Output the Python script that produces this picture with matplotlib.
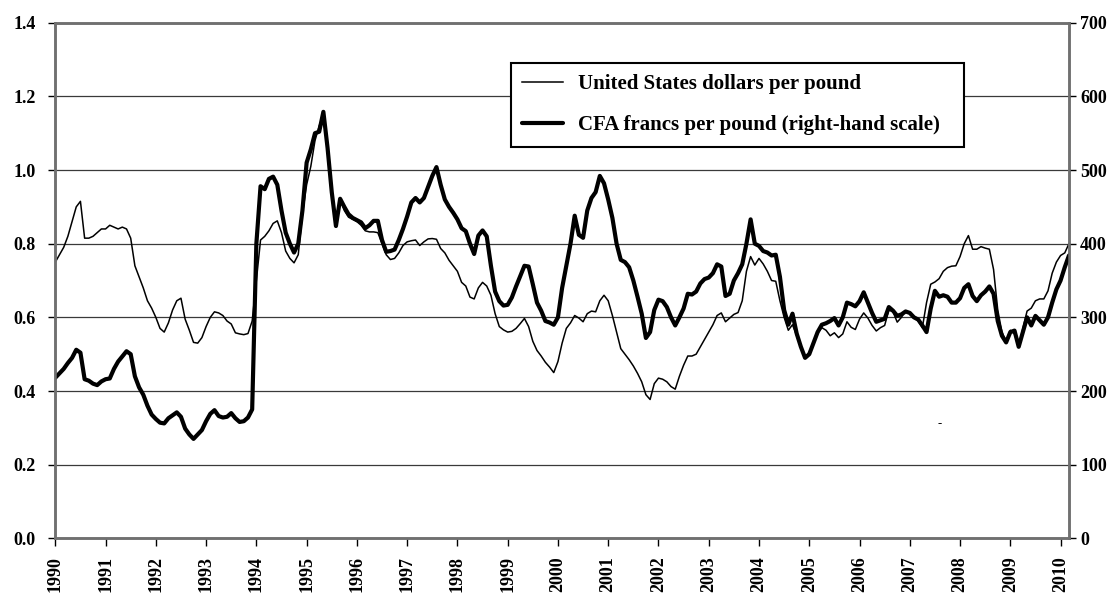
import matplotlib
matplotlib.use("Agg")
import matplotlib.pyplot as plt
import numpy as np

plt.rcParams['font.family'] = ['Liberation Serif', 'DejaVu Serif']
plt.rcParams['font.weight'] = 'bold'

# ---------------- data (monthly, Jan 1990 - Mar 2010) ----------------
start_year = 1990
usd_per_pound = [
    0.75, 0.77, 0.79, 0.82, 0.86, 0.90, 0.915, 0.815, 0.815, 0.82, 0.83, 0.84,      # 1990
    0.84, 0.85, 0.845, 0.84, 0.845, 0.84, 0.815, 0.74, 0.71, 0.68, 0.645, 0.625,    # 1991
    0.60, 0.57, 0.56, 0.585, 0.62, 0.645, 0.652, 0.595, 0.565, 0.532, 0.53, 0.545,  # 1992
    0.575, 0.60, 0.615, 0.612, 0.605, 0.59, 0.582, 0.558, 0.555, 0.553, 0.556, 0.59,  # 1993
    0.70, 0.81, 0.82, 0.835, 0.855, 0.862, 0.83, 0.78, 0.76, 0.748, 0.77, 0.88,     # 1994
    0.96, 1.01, 1.08, 1.12, 1.15, 1.07, 0.95, 0.855, 0.92, 0.89, 0.872, 0.866,      # 1995
    0.86, 0.85, 0.835, 0.832, 0.832, 0.83, 0.80, 0.77, 0.757, 0.76, 0.775, 0.795,   # 1996
    0.805, 0.808, 0.81, 0.795, 0.805, 0.813, 0.814, 0.812, 0.787, 0.775, 0.755, 0.74,  # 1997
    0.725, 0.695, 0.685, 0.655, 0.65, 0.68, 0.695, 0.685, 0.66, 0.61, 0.575, 0.566,  # 1998
    0.56, 0.562, 0.57, 0.583, 0.597, 0.575, 0.535, 0.51, 0.495, 0.478, 0.465, 0.45,  # 1999
    0.48, 0.53, 0.57, 0.585, 0.605, 0.598, 0.588, 0.61, 0.617, 0.615, 0.645, 0.66,  # 2000
    0.645, 0.605, 0.56, 0.515, 0.50, 0.485, 0.468, 0.448, 0.425, 0.39, 0.377, 0.42,  # 2001
    0.435, 0.432, 0.425, 0.412, 0.405, 0.44, 0.47, 0.495, 0.495, 0.50, 0.52, 0.54,  # 2002
    0.56, 0.58, 0.605, 0.612, 0.588, 0.598, 0.608, 0.613, 0.645, 0.725, 0.765, 0.742,  # 2003
    0.76, 0.745, 0.725, 0.70, 0.698, 0.645, 0.60, 0.565, 0.58, 0.55, 0.52, 0.492,   # 2004
    0.505, 0.53, 0.557, 0.572, 0.565, 0.55, 0.558, 0.545, 0.555, 0.588, 0.573, 0.567,  # 2005
    0.595, 0.612, 0.598, 0.578, 0.563, 0.572, 0.578, 0.62, 0.615, 0.587, 0.60, 0.618,  # 2006
    0.61, 0.60, 0.59, 0.572, 0.64, 0.69, 0.696, 0.705, 0.725, 0.735, 0.739, 0.74,   # 2007
    0.765, 0.80, 0.822, 0.785, 0.785, 0.792, 0.788, 0.785, 0.73, 0.62, 0.56, 0.535,  # 2008
    0.565, 0.555, 0.52, 0.57, 0.617, 0.625, 0.645, 0.65, 0.65, 0.672, 0.72, 0.75,   # 2009
    0.768, 0.775, 0.80,                                                             # 2010
]
cfa_per_pound = [
    218, 224, 230, 238, 245, 256, 252, 216, 214, 210, 208, 213,   # 1990
    216, 217, 230, 240, 247, 254, 250, 220, 205, 195, 180, 168,   # 1991
    162, 157, 156, 163, 167, 171, 165, 149, 141, 135, 141, 147,   # 1992
    159, 169, 174, 166, 164, 165, 170, 163, 158, 159, 164, 175,   # 1993
    400, 478, 474, 488, 491, 480, 445, 415, 400, 388, 400, 445,   # 1994
    510, 528, 550, 552, 579, 530, 470, 424, 461, 450, 440, 435,   # 1995
    432, 429, 421, 425, 431, 431, 405, 389, 390, 392, 405, 420,   # 1996
    437, 456, 462, 456, 462, 477, 492, 504, 480, 460, 450, 442,   # 1997
    433, 421, 417, 400, 386, 411, 418, 410, 370, 335, 322, 316,   # 1998
    317, 327, 342, 356, 370, 369, 345, 320, 309, 295, 293, 290,   # 1999
    300, 340, 370, 400, 438, 412, 408, 445, 462, 470, 492, 482,   # 2000
    460, 435, 400, 378, 375, 368, 350, 328, 305, 272, 280, 310,   # 2001
    324, 322, 314, 300, 289, 300, 312, 332, 331, 335, 346, 352,   # 2002
    354, 360, 372, 369, 329, 332, 350, 360, 372, 400, 433, 400,   # 2003
    397, 390, 388, 384, 385, 355, 310, 290, 305, 278, 260, 245,   # 2004
    250, 265, 280, 290, 292, 295, 299, 289, 300, 320, 318, 315,   # 2005
    322, 334, 320, 306, 294, 296, 298, 314, 309, 302, 304, 308,   # 2006
    306, 300, 297, 289, 280, 312, 336, 328, 330, 328, 320, 320,   # 2007
    326, 340, 345, 329, 322, 330, 335, 342, 332, 295, 275, 266,   # 2008
    280, 282, 260, 280, 300, 289, 302, 296, 290, 300, 320, 338,   # 2009
    350, 368, 384,                                                # 2010
]
year_ticks = list(range(1990, 2011))
left_ticks = [0.0, 0.2, 0.4, 0.6, 0.8, 1.0, 1.2, 1.4]
right_ticks = [0, 100, 200, 300, 400, 500, 600, 700]
label_usd = "United States dollars per pound"
label_cfa = "CFA francs per pound (right-hand scale)"

t = start_year + np.arange(len(usd_per_pound)) / 12.0

# ---------------- figure ----------------
fig = plt.figure(figsize=(11.15, 5.93), dpi=100)
ax = fig.add_axes([0.0496, 0.0922, 0.9587 - 0.0496, 0.9617 - 0.0922])
ax2 = ax.twinx()

l1, = ax.plot(t, usd_per_pound, color='black', lw=1.1, solid_joinstyle='round')
l2, = ax2.plot(t, cfa_per_pound, color='black', lw=3.0, solid_joinstyle='round',
               solid_capstyle='round')

ax.set_xlim(1990, 2010 + 2 / 12)
ax.set_ylim(0, 1.4)
ax2.set_ylim(0, 700)

ax.set_yticks(left_ticks)
ax.set_yticklabels([f"{v:.1f}" for v in left_ticks])
ax2.set_yticks(right_ticks)
ax2.set_yticklabels([str(v) for v in right_ticks])
ax.set_xticks(year_ticks)
ax.set_xticklabels([str(y) for y in year_ticks], rotation=90, va='top')

for a in (ax, ax2):
    for s in a.spines.values():
        s.set_color('#707070')
        s.set_linewidth(1.8)
ax.tick_params(axis='y', direction='out', length=5, width=1, pad=9, labelsize=13, colors='black')
ax2.tick_params(axis='y', direction='out', length=5, width=1, pad=3, labelsize=13, colors='black')
ax.tick_params(axis='x', direction='out', length=6, width=1, pad=7, labelsize=13, colors='black')
for lab in ax.get_xticklabels() + ax.get_yticklabels() + ax2.get_yticklabels():
    lab.set_fontweight('bold')

ax.grid(axis='y', color='#3a3a3a', lw=0.9)
ax.set_axisbelow(True)

leg = ax2.legend([l1, l2], [label_usd, label_cfa],
                 loc='upper left',
                 bbox_to_anchor=(511 / 1115, 1 - 148 / 593, (964 - 511) / 1115, (148 - 63) / 593),
                 bbox_transform=fig.transFigure, mode='expand',
                 prop={'family': 'Liberation Serif', 'weight': 'bold', 'size': 15},
                 frameon=True, fancybox=False, framealpha=1, edgecolor='black',
                 borderpad=0.55, labelspacing=1.0, handlelength=1.95, handletextpad=0.72,
                 borderaxespad=0)
leg.get_frame().set_linewidth(1.5)

ax2.text(2007.6, 155, "-", ha='center', va='center', fontsize=9, fontweight='normal')

fig.savefig("out.png", dpi=100)
